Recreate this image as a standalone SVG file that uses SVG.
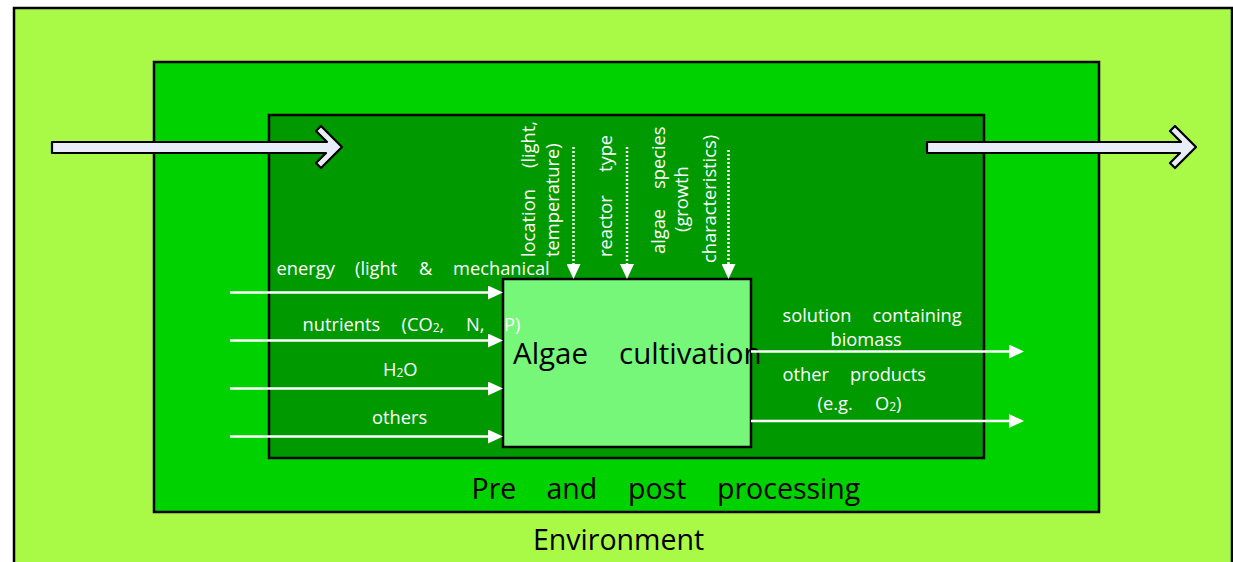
<svg xmlns="http://www.w3.org/2000/svg" width="1233" height="562" viewBox="0 0 1233 562">
<defs>
<style>
.frame{stroke:#000;stroke-width:2.5}
.lbl{font-family:"Open Sans","Liberation Sans",sans-serif;font-size:18.3px;fill:#fff}
.big{font-family:"Open Sans","Liberation Sans",sans-serif;font-size:28.5px;fill:#000}
.sub{font-size:12px}
.flow{stroke:#fff;stroke-width:2.5;fill:none;marker-end:url(#ah)}
.dot{stroke:#fff;stroke-width:2.5;fill:none;stroke-dasharray:2 2;marker-end:url(#ah)}
.big-arrow{fill:#E9EDF7;stroke:#000;stroke-width:2.2;stroke-linejoin:round}
</style>
<marker id="ah" markerUnits="userSpaceOnUse" markerWidth="15" markerHeight="14" refX="7" refY="7" orient="auto">
<path d="M0,0 L15,7 L0,14 z" fill="#fff"/>
</marker>
</defs>

<g id="environment">
<rect class="frame" x="14" y="8" width="1218" height="600" fill="#A9F947"/>
<text class="big" x="533" y="550">Environment</text>
</g>

<g id="pre-post-processing">
<rect class="frame" x="154" y="62" width="945" height="450" fill="#00D200"/>
<text class="big"><tspan x="471.5" y="499">Pre</tspan><tspan x="546.5" y="499">and</tspan><tspan x="628" y="499">post</tspan><tspan x="717" y="499">processing</tspan></text>
</g>

<g id="inner-area">
<rect class="frame" x="269" y="115" width="715" height="343" fill="#009A00"/>
</g>

<g id="algae-cultivation">
<rect class="frame" x="503" y="279" width="248" height="168" fill="#76F77A"/>
<text class="big" style="font-size:29.5px"><tspan x="513" y="364">Algae</tspan><tspan x="619" y="364">cultivation</tspan></text>
</g>

<g id="input-labels">
<text class="lbl"><tspan x="276.5" y="275">energy</tspan><tspan x="355" y="275">(light</tspan><tspan x="419" y="275">&amp;</tspan><tspan x="453" y="275">mechanical</tspan></text>
<text class="lbl"><tspan x="302.5" y="331">nutrients</tspan><tspan x="401.5" y="331">(CO<tspan class="sub" dy="1">2</tspan><tspan dy="-1">,</tspan></tspan><tspan x="466" y="331">N,</tspan><tspan x="504" y="331">P)</tspan></text>
<text class="lbl" x="383" y="376">H<tspan class="sub" dy="1">2</tspan><tspan dy="-1">O</tspan></text>
<text class="lbl" x="372" y="424">others</text>
</g>

<g id="parameter-labels">
<text class="lbl" transform="translate(535,257) rotate(-90)"><tspan x="0" y="0">location</tspan><tspan x="89" y="0">(light,</tspan></text>
<text class="lbl" transform="translate(559,257) rotate(-90)">temperature)</text>
<text class="lbl" transform="translate(612,257) rotate(-90)"><tspan x="0" y="0">reactor</tspan><tspan x="85" y="0">type</tspan></text>
<text class="lbl" transform="translate(665,254) rotate(-90)"><tspan x="0" y="0">algae</tspan><tspan x="65" y="0">species</tspan></text>
<text class="lbl" transform="translate(688,232) rotate(-90)">(growth</text>
<text class="lbl" transform="translate(716,263) rotate(-90)">characteristics)</text>
</g>

<g id="output-labels">
<text class="lbl"><tspan x="782.5" y="322">solution</tspan><tspan x="872.5" y="322">containing</tspan></text>
<text class="lbl" x="830.5" y="345.5">biomass</text>
<text class="lbl"><tspan x="782.5" y="381">other</tspan><tspan x="850" y="381">products</tspan></text>
<text class="lbl"><tspan x="817.5" y="409.5">(e.g.</tspan><tspan x="875" y="409.5">O<tspan class="sub" dy="1">2</tspan><tspan dy="-1">)</tspan></tspan></text>
</g>

<g id="connectors">
<line class="flow" x1="230" y1="292.5" x2="495" y2="292.5"/>
<line class="flow" x1="230" y1="340.5" x2="495" y2="340.5"/>
<line class="flow" x1="230" y1="388.5" x2="495" y2="388.5"/>
<line class="flow" x1="230" y1="436.5" x2="495" y2="436.5"/>
<line class="flow" x1="751" y1="351.5" x2="1016" y2="351.5"/>
<line class="flow" x1="751" y1="421" x2="1016" y2="421"/>
<line class="dot" x1="573.5" y1="147" x2="573.5" y2="271"/>
<line class="dot" x1="627" y1="147" x2="627" y2="271"/>
<line class="dot" x1="728.5" y1="150" x2="728.5" y2="271"/>
<polygon class="big-arrow" points="52,142 327,142 316,131 321,126 342,147 321,168 316,163 326,153 52,153"/>
<polygon class="big-arrow" points="927,142 1181,142 1170,131 1175,126 1196,147 1175,168 1170,163 1180,153 927,153"/>
</g>
</svg>
